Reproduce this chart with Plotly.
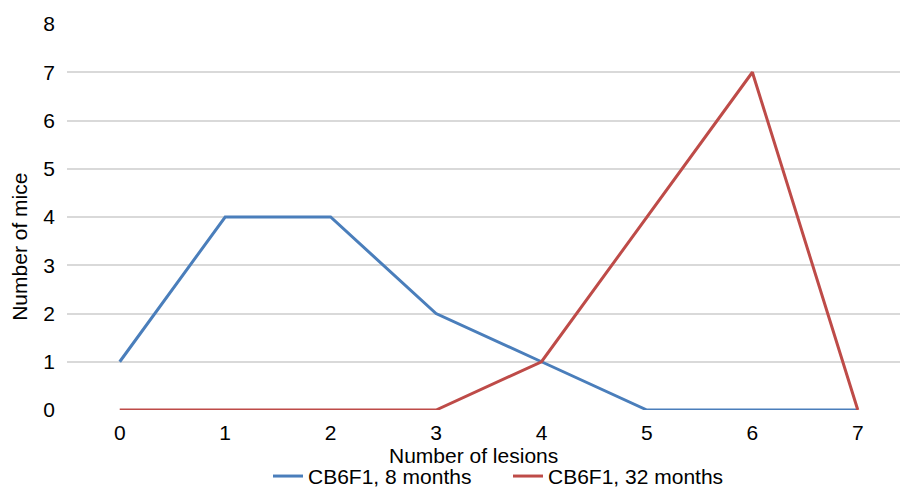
import plotly.graph_objects as go

categories = [0, 1, 2, 3, 4, 5, 6, 7]
mice_8_months = [1, 4, 4, 2, 1, 0, 0, 0]
mice_32_months = [0, 0, 0, 0, 1, 4, 7, 0]
series_names = ["CB6F1, 8 months", "CB6F1, 32 months"]
y_ticks = [0, 1, 2, 3, 4, 5, 6, 7, 8]
x_title = "Number of lesions"
y_title = "Number of mice"

FONT = "Liberation Sans, Arial, Helvetica, sans-serif"
FS = 21

fig = go.Figure()
fig.add_trace(go.Scatter(x=categories, y=mice_8_months, mode="lines", name=series_names[0],
                         line=dict(color="#4a7ebb", width=3)))
fig.add_trace(go.Scatter(x=categories, y=mice_32_months, mode="lines", name=series_names[1],
                         line=dict(color="#be4b48", width=3)))

fig.update_layout(
    width=900, height=487,
    margin=dict(l=67, r=0, t=24, b=77, autoexpand=False),
    paper_bgcolor="white", plot_bgcolor="white",
    font=dict(family=FONT, size=FS, color="black"),
    showlegend=True,
    legend=dict(orientation="h", x=0.2413, xanchor="left", y=-0.172, yanchor="middle",
                font=dict(size=FS), itemwidth=30, entrywidth=195, tracegroupgap=0,
                bgcolor="rgba(0,0,0,0)"),
    xaxis=dict(range=[-0.5, 7.4], tickmode="array", tickvals=categories,
               ticktext=[str(c) for c in categories], automargin=False,
               showgrid=False, zeroline=False, showline=False, ticks="",
               ticklabelstandoff=8, tickfont=dict(size=FS)),
    yaxis=dict(range=[0, 8], tickmode="array", tickvals=y_ticks, automargin=False,
               showgrid=True, gridcolor="#d9d9d9", gridwidth=1.5, zeroline=False,
               showline=False, ticks="", ticklabelstandoff=11,
               tickfont=dict(size=FS)),
    annotations=[
        dict(text=x_title, xref="paper", yref="paper", x=0.488, y=-0.117,
             xanchor="center", yanchor="middle", showarrow=False, font=dict(size=FS)),
        dict(text=y_title, xref="paper", yref="paper", x=-0.058, y=0.422,
             xanchor="center", yanchor="middle", showarrow=False, textangle=-90,
             font=dict(size=FS)),
    ],
)

fig.write_html("out.html", config={"displayModeBar": False},
               post_script="document.body.style.margin='0px';document.body.style.padding='0px';")
